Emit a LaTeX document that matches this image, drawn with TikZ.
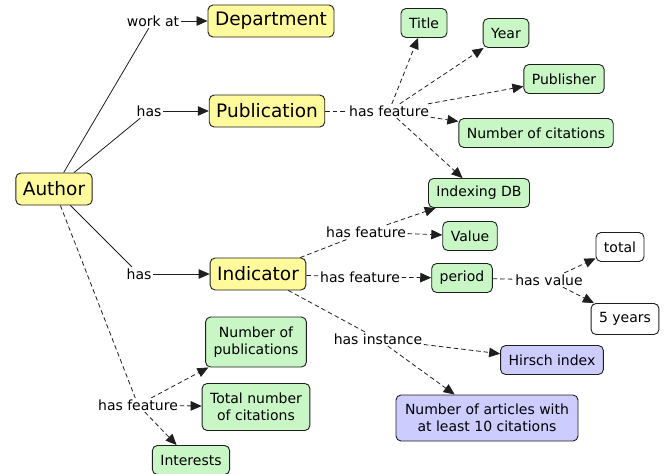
\documentclass[tikz,border=0pt]{standalone}
\usepackage{fontspec}
\setmainfont{DejaVu Sans}
\usetikzlibrary{arrows.meta}
\definecolor{conceptfill}{HTML}{FFFA9C}
\definecolor{featurefill}{HTML}{C8F7C5}
\definecolor{instancefill}{HTML}{CCCCFF}
\definecolor{edgegray}{HTML}{1E1E1E}

\begin{document}
\begin{tikzpicture}[
    x=1pt, y=-1pt,
    box/.style={rectangle, draw=edgegray, line width=0.9pt, rounded corners=5pt, text centered},
    concept/.style={box, fill=conceptfill, font=\fontsize{18.5}{21}\selectfont, minimum height=32pt, inner xsep=7pt},
    feature/.style={box, fill=featurefill, font=\fontsize{14}{17.5}\selectfont, minimum height=29pt, inner xsep=8pt, align=center},
    instance/.style={feature, fill=instancefill},
    valuebox/.style={feature, fill=white},
    linkname/.style={font=\fontsize{14}{16}\selectfont, inner sep=1.5pt},
    link/.style={draw=edgegray, line width=0.8pt},
    arrow/.style={link, -{Triangle[length=11pt, width=9.5pt]}},
    dashed_link/.style={link, dash pattern=on 4.5pt off 3pt},
    dashed_arrow/.style={arrow, dash pattern=on 4.5pt off 3pt}
]
    \useasboundingbox (0,0) rectangle (670,474);

    % Concepts
    \node[concept] (author) at (54,189) {Author};
    \node[concept] (dept) at (271,21) {Department};
    \node[concept] (pub) at (267,111) {Publication};
    \node[concept] (ind) at (258,274) {Indicator};

    % Publication features
    \node[feature] (title) at (424,23) {Title};
    \node[feature] (year) at (506,33) {Year};
    \node[feature] (publisher) at (564,79) {Publisher};
    \node[feature] (numcit) at (536,133) {Number of citations};
    \node[feature] (indexdb) at (479,193) {Indexing DB};

    % Indicator features and instances
    \node[feature] (value) at (470,236) {Value};
    \node[feature] (period) at (462,278) {period};
    \node[valuebox] (total) at (620,247) {total};
    \node[valuebox, minimum height=31pt] (fiveyears) at (625,319) {5 years};
    \node[instance] (hirsch) at (552,360) {Hirsch index};
    \node[instance, minimum height=46pt, inner xsep=9pt] (articles) at (487,418) {Number of articles with\\at least 10 citations};

    % Author features
    \node[feature, minimum height=50pt] (numpub) at (256,342) {Number of\\publications};
    \node[feature, minimum height=47pt] (totcit) at (256,407) {Total number\\of citations};
    \node[feature] (interests) at (191,460) {Interests};

    % Link names
    \node[linkname] (workat) at (153,21) {work at};
    \node[linkname] (haspub) at (149,111) {has};
    \node[linkname] (hasind) at (139,274) {has};
    \node[linkname] (pubfeat) at (389,111) {has feature};
    \node[linkname] (indfeat) at (366,232) {has feature};
    \node[linkname] (perfeat) at (360,277) {has feature};
    \node[linkname] (hasvalue) at (549,280) {has value};
    \node[linkname] (hasinst) at (378,339) {has instance};
    \node[linkname] (authfeat) at (138,405) {has feature};

    % Edges
    \draw[link] (author) -- (workat);
    \draw[arrow] (workat) -- (dept);
    \draw[link] (author) -- (haspub);
    \draw[arrow] (haspub) -- (pub);
    \draw[link] (author) -- (hasind);
    \draw[arrow] (hasind) -- (ind);

    \draw[dashed_link] (pub) -- (pubfeat);
    \draw[dashed_arrow] (pubfeat) -- (title);
    \draw[dashed_arrow] (pubfeat) -- (year);
    \draw[dashed_arrow] (pubfeat) -- (publisher);
    \draw[dashed_arrow] (pubfeat) -- (numcit);
    \draw[dashed_arrow] (pubfeat) -- (indexdb);

    \draw[dashed_link] (ind) -- (indfeat);
    \draw[dashed_arrow] (indfeat) -- (indexdb);
    \draw[dashed_arrow] (indfeat) -- (value);
    \draw[dashed_link] (ind) -- (perfeat);
    \draw[dashed_arrow] (perfeat) -- (period);
    \draw[dashed_link] (period) -- (hasvalue);
    \draw[dashed_arrow] (hasvalue) -- (total);
    \draw[dashed_arrow] (hasvalue) -- (fiveyears);
    \draw[dashed_link] (ind) -- (hasinst);
    \draw[dashed_arrow] (hasinst) -- (hirsch);
    \draw[dashed_arrow] (hasinst) -- (articles);

    \draw[dashed_link] (author) -- (authfeat);
    \draw[dashed_arrow] (authfeat) -- (numpub);
    \draw[dashed_arrow] (authfeat) -- (totcit);
    \draw[dashed_arrow] (authfeat) -- (interests);
\end{tikzpicture}
\end{document}
